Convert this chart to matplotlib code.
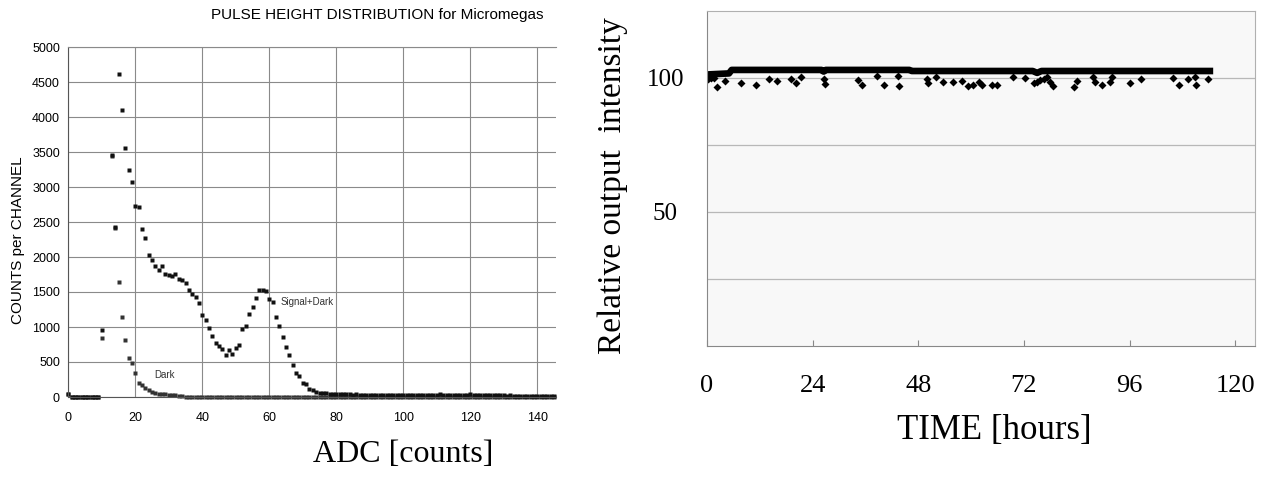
import matplotlib.pyplot as plt

W, H = 1268, 478

# ---------------- left panel: pulse height distribution ----------------
adc = list(range(0, 11)) + list(range(13, 146))   # channels 11, 12 are empty

sd_low = [45, 5, 4, 4, 5, 4, 4, 5, 4, 4, 957]
sd_peak = [3455, 2425, 4620, 4100, 3555, 3240, 3070, 2730, 2710, 2400,
           2275, 2035, 1962, 1870, 1812, 1875, 1754, 1738, 1735, 1754,
           1691, 1676, 1633, 1532, 1478, 1430, 1339, 1170, 1097, 991,
           870, 773, 735, 691, 604, 667, 614, 701, 749, 967,
           1014, 1184, 1281, 1412, 1532, 1532, 1517, 1401, 1362, 1150,
           1014, 860, 710, 595, 455, 340, 305, 205, 180, 120,
           100, 77, 62, 52, 52, 43]
sd_tail = [38, 37, 38, 36, 37, 36, 35, 36, 35, 34, 35, 34, 33, 34, 33, 32,
           33, 32, 31, 32, 31, 30,
           31, 30, 29, 30, 29, 28, 29, 28, 27, 28, 45, 27, 26, 27, 26, 25,
           26, 25, 26, 48,
           25, 24, 25, 24, 23, 24, 23, 22, 23, 22, 21, 22, 21, 20, 21, 20,
           19, 20, 19, 18, 19, 18, 17, 18, 17]
signal_dark = sd_low + sd_peak + sd_tail

dark_low = [40, 4, 3, 3, 4, 3, 3, 4, 3, 3, 845]
dark_peak = [3440, 2410, 1650, 1150, 820, 560, 488, 338, 200, 170, 125,
             95, 75, 60, 50, 42, 38, 30, 27, 22, 18, 12]
dark_tail = [2] * 111   # flat at zero from channel 35 on
dark = dark_low + dark_peak + dark_tail

# ---------------- right panel: output stability ----------------
band_hours = [0, 5, 5.6, 26, 26.5, 27, 46, 46.5, 74, 75, 76, 115]
band_level = [101.2, 101.6, 102.9, 102.9, 102.3, 102.9, 102.9, 102.5,
              102.5, 101.8, 102.5, 102.5]

drop_hours = [0.3, 0.8, 1.5, 2.2, 4.1, 7.7, 11.1, 14.1, 16.0, 19.0, 20.2,
              21.3, 26.6, 26.8, 34.4, 35.3, 38.6, 40.2, 43.6, 43.5, 50.2,
              49.9, 52.0, 53.6, 56.0, 57.9, 59.4, 60.4, 61.7, 62.4, 64.7,
              65.8, 69.6, 72.3, 74.2, 75.0, 75.7, 76.6, 77.2, 78.0, 78.6,
              83.3, 84.0, 87.7, 88.2, 89.7, 91.6, 92.0, 96.0, 98.6, 105.8,
              107.3, 109.2, 110.9, 111.1, 113.9]
drop_level = [99.5, 100.0, 99.8, 96.6, 98.8, 98.1, 97.3, 99.5, 98.8, 99.5,
              97.9, 100.4, 99.5, 97.6, 99.1, 97.3, 100.7, 97.3, 97.0, 100.7,
              98.1, 99.4, 100.1, 98.5, 98.5, 98.8, 97.0, 97.3, 98.5, 97.3,
              97.3, 97.3, 100.1, 99.8, 98.1, 98.5, 99.1, 99.4, 100.1, 98.5,
              97.0, 96.6, 98.8, 100.1, 98.5, 97.3, 98.5, 100.1, 97.9, 99.4,
              99.8, 97.3, 99.4, 100.1, 97.3, 99.4]

fig = plt.figure(figsize=(W / 100, H / 100), dpi=100)

sans = "Liberation Sans"
serif = "Liberation Serif"

# left axes
ax1 = fig.add_axes([68.3 / W, 1 - 397 / H, (556 - 68.3) / W, 350 / H])
ax1.plot(adc, dark, "s", ms=2.3, color="#333333", mec="none", clip_on=False)
ax1.plot(adc, signal_dark, "s", ms=2.3, color="#111111", mec="none", clip_on=False)
ax1.set_xlim(0, 145.6)
ax1.set_ylim(0, 5000)
ax1.set_xticks(range(0, 141, 20))
ax1.set_yticks(range(0, 5001, 500))
ax1.grid(True, color="#8a8a8a", lw=0.8)
ax1.set_axisbelow(True)
ax1.tick_params(length=0, labelsize=9)
ax1.tick_params(axis="x", pad=11)
ax1.tick_params(axis="y", pad=6)
for lab in ax1.get_xticklabels() + ax1.get_yticklabels():
    lab.set_family(sans)
ax1.spines["right"].set_visible(False)
ax1.spines["top"].set_color("#8a8a8a")
ax1.spines["top"].set_linewidth(0.8)
ax1.spines["left"].set_color("#555555")
ax1.spines["bottom"].set_color("#555555")
ax1.text(63.5, 1363, "Signal+Dark", fontsize=7, family=sans, color="#333333",
         ha="left", va="center")
ax1.text(25.6, 316, "Dark", fontsize=7, family=sans, color="#333333",
         ha="left", va="center")

fig.text(377 / W, 1 - 15 / H, "PULSE HEIGHT DISTRIBUTION for Micromegas",
         fontsize=11, family=sans, ha="center", va="center")
fig.text(18 / W, 1 - 240 / H, "COUNTS per CHANNEL", fontsize=11, family=sans,
         rotation=90, ha="center", va="center")
fig.text(403 / W, 1 - 455 / H, "ADC [counts]", fontsize=23, family=serif,
         ha="center", va="center")

# right axes
ax2 = fig.add_axes([707 / W, 1 - 345.7 / H, 548 / W, 335 / H])
ax2.set_facecolor("#f8f8f8")
ax2.plot(band_hours, band_level, "-", lw=4.8, color="black",
         solid_capstyle="butt")
ax2.plot(drop_hours, drop_level, "D", ms=4.3, color="black", mec="none")
ax2.set_xlim(0, 124.5)
ax2.set_ylim(0, 125)
ax2.set_xticks(range(0, 121, 24))
ax2.set_yticks([25, 50, 75, 100])
ax2.set_yticklabels(["", "50", "", "100"])
ax2.grid(True, axis="y", color="#b8b8b8", lw=0.9)
ax2.set_axisbelow(True)
ax2.tick_params(axis="y", length=0, pad=30, labelsize=18)
ax2.tick_params(axis="x", direction="in", length=4, color="#888888",
                pad=21, labelsize=19)
for lab in ax2.get_yticklabels():
    lab.set_horizontalalignment("center")
for lab in ax2.get_xticklabels() + ax2.get_yticklabels():
    lab.set_family(serif)
for side in ["top", "right"]:
    ax2.spines[side].set_color("#b0b0b0")
for side in ["left", "bottom"]:
    ax2.spines[side].set_color("#888888")

fig.text(613 / W, 1 - 186 / H, "Relative output  intensity", fontsize=24,
         family=serif, rotation=90, ha="center", va="center")
fig.text(994 / W, 1 - 430 / H, "TIME [hours]", fontsize=25, family=serif,
         ha="center", va="center")

fig.savefig("out.png", dpi=100)
